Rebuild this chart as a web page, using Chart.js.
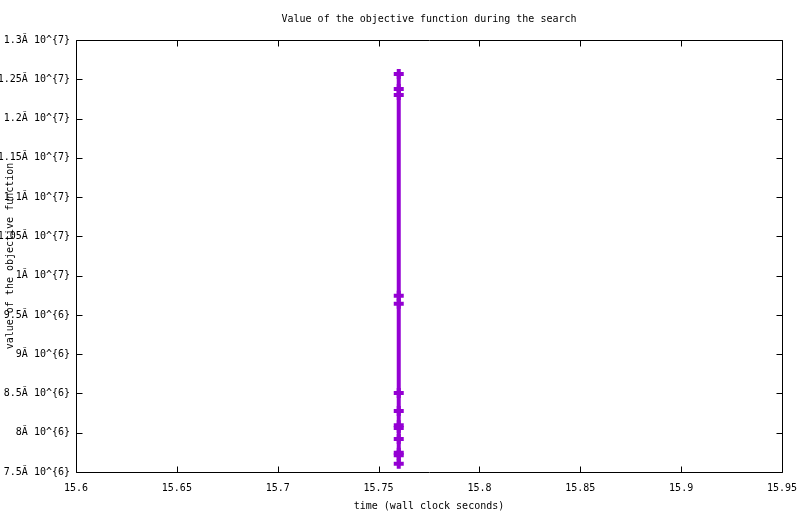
<!DOCTYPE html>
<html>
<head>
<meta charset="utf-8">
<script src="https://cdn.jsdelivr.net/npm/chart.js@4/dist/chart.umd.min.js"></script>
<style>
html,body{margin:0;padding:0;background:#fff;}
#c{display:block;}
</style>
</head>
<body>
<canvas id="c" width="800" height="514"></canvas>
<script>
// Data
const times = [15.76, 15.76, 15.76, 15.76, 15.76, 15.76, 15.76, 15.76, 15.76, 15.76, 15.76, 15.76, 15.76];
const objectiveValues = [12567000, 12376000, 12300000, 9745000, 9643000, 8506000, 8277000, 8094000, 8060000, 7920000, 7746000, 7712000, 7606000];

const xTickLabels = ['15.6', '15.65', '15.7', '15.75', '15.8', '15.85', '15.9', '15.95'];
const yTickLabels = ['7.5Ă 10^{6}', '8Ă 10^{6}', '8.5Ă 10^{6}', '9Ă 10^{6}', '9.5Ă 10^{6}',
  '1Ă 10^{7}', '1.05Ă 10^{7}', '1.1Ă 10^{7}', '1.15Ă 10^{7}', '1.2Ă 10^{7}', '1.25Ă 10^{7}', '1.3Ă 10^{7}'];

const titleText = 'Value of the objective function during the search';
const xTitle = 'time (wall clock seconds)';
const yTitle = 'value of the objective function';

const points = times.map((t, i) => ({x: t, y: objectiveValues[i]}));

const FONT = {family: '"DejaVu Sans Mono", "Liberation Mono", monospace', size: 10};

const frame = {
  id: 'frame',
  afterDraw(chart) {
    const ctx = chart.ctx;
    const a = chart.chartArea;
    ctx.save();
    ctx.strokeStyle = '#000';
    ctx.lineWidth = 1;
    ctx.beginPath();
    const L = Math.round(a.left) + 0.5, R = Math.round(a.right) + 0.5;
    const T = Math.round(a.top) + 0.5, B = Math.round(a.bottom) + 0.5;
    ctx.rect(L, T, R - L, B - T);
    const tl = 6;
    const xs = chart.scales.x, ys = chart.scales.y;
    xs.ticks.forEach(t => {
      const px = Math.round(xs.getPixelForValue(t.value)) + 0.5;
      ctx.moveTo(px, B); ctx.lineTo(px, B - tl);
      ctx.moveTo(px, T); ctx.lineTo(px, T + tl);
    });
    ys.ticks.forEach(t => {
      const py = Math.round(ys.getPixelForValue(t.value)) + 0.5;
      ctx.moveTo(L, py); ctx.lineTo(L + tl, py);
      ctx.moveTo(R, py); ctx.lineTo(R - tl, py);
    });
    ctx.stroke();
    ctx.restore();
  }
};

new Chart(document.getElementById('c'), {
  type: 'scatter',
  data: {
    datasets: [{
      data: points,
      showLine: true,
      borderColor: '#9400d3',
      backgroundColor: '#9400d3',
      borderWidth: 4,
      pointStyle: 'cross',
      pointRadius: 5,
      pointBorderWidth: 4,
      pointHoverRadius: 5,
      tension: 0
    }]
  },
  options: {
    responsive: false,
    animation: false,
    layout: {padding: {left: 0, right: 18, top: 1, bottom: 0}},
    plugins: {
      legend: {display: false},
      tooltip: {enabled: false},
      title: {
        display: true,
        text: titleText,
        color: '#000',
        fullSize: false,
        font: {...FONT, weight: 'normal'},
        padding: {top: 12, bottom: 15}
      }
    },
    scales: {
      x: {
        type: 'linear',
        min: 15.6,
        max: 15.95,
        grid: {display: false, drawTicks: false},
        border: {display: false},
        ticks: {
          stepSize: 0.05,
          color: '#000',
          font: FONT,
          padding: 10,
          maxRotation: 0,
          autoSkip: false,
          callback: (v, i) => xTickLabels[i]
        },
        title: {display: true, text: xTitle, color: '#000', font: FONT, padding: {top: 0, bottom: 2}},
        afterFit(s) { s.height = 42; s.paddingRight = 0; s.paddingLeft = 0; }
      },
      y: {
        type: 'linear',
        min: 7500000,
        max: 13000000,
        grid: {display: false, drawTicks: false},
        border: {display: false},
        ticks: {
          stepSize: 500000,
          color: '#000',
          font: FONT,
          padding: 6,
          autoSkip: false,
          callback: (v, i) => yTickLabels[i]
        },
        title: {display: true, text: yTitle, color: '#000', font: FONT, padding: {top: 4, bottom: 0}},
        afterFit(s) { s.width = 76; }
      }
    }
  },
  plugins: [frame]
});
</script>
</body>
</html>
